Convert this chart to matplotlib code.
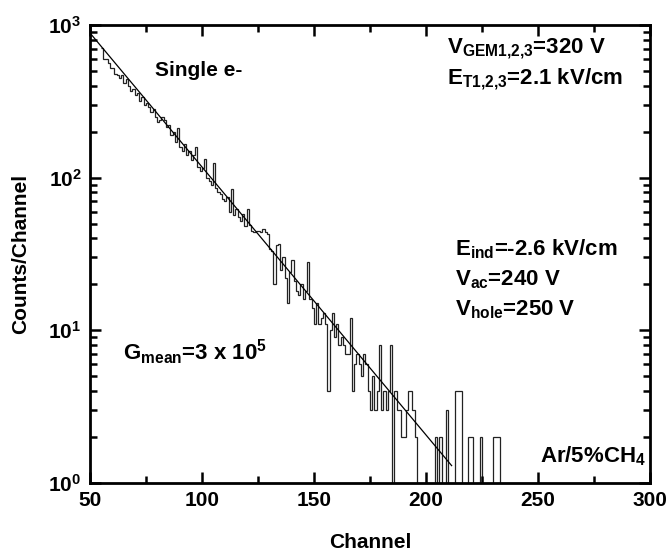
import numpy as np
import matplotlib
matplotlib.use("Agg")
import matplotlib.pyplot as plt
from matplotlib.ticker import FixedLocator, LogLocator, LogFormatterMathtext, NullFormatter

plt.rcParams['font.family'] = ['Liberation Sans', 'DejaVu Sans']
plt.rcParams['font.weight'] = 'bold'
plt.rcParams['mathtext.fontset'] = 'custom'
plt.rcParams['mathtext.rm'] = 'Liberation Sans:bold'
plt.rcParams['mathtext.it'] = 'Liberation Sans:bold'
plt.rcParams['mathtext.bf'] = 'Liberation Sans:bold'

# ---- data ----
first_channel = 55
counts = [
    710, 600, 600, 560, 520, 520, 480, 470, 450, 470,   # 55-64
    420, 440, 400, 370, 380, 350, 360, 320, 340, 300,   # 65-74
    310, 290, 270, 280, 250, 230, 240, 250, 240, 215,   # 75-84
    220, 190, 200, 170, 210, 160, 150, 165, 140, 150,   # 85-94
    130, 140, 158, 118, 110, 115, 132, 100, 95, 90,     # 95-104
    125, 85, 80, 78, 72, 70, 75, 60, 84, 57,            # 105-114
    62, 55, 52, 58, 48, 62, 49, 45, 44, 45,             # 115-124
    45, 44, 46, 44, 43, 34, 33, 20, 36, 37,             # 125-134
    25, 30, 22, 15, 24, 29, 21, 18, 17, 20,             # 135-144
    16, 18, 28, 16, 14, 11, 15, 11, 12, 13,             # 145-154
    11, 4, 10, 13, 9, 11, 8, 9, 8, 7,                   # 155-164
    7, 12, 4, 6, 7, 6, 5, 7, 6, 4,                      # 165-174
    3, 5, 3, 4, 8, 3, 4, 3, 4, 8,                       # 175-184
    0, 4, 3, 3, 2, 2, 3, 4, 4, 3,                       # 185-194
    2, 0, 0, 0, 0, 0, 0, 0, 0, 2,                       # 195-204
    0, 2, 0, 0, 3, 0, 0, 0, 4, 4,                       # 205-214
    4, 0, 0, 0, 2, 2, 0, 0, 0, 2,                       # 215-224
    0, 0, 0, 0, 0, 2, 2, 2, 0,                          # 225-233
]
fit_x = [50, 211.5]
fit_y = [890, 1.3]

x_ticks = [50, 100, 150, 200, 250, 300]

# ---- plot ----
fig = plt.figure(figsize=(6.70, 5.58), dpi=100)
ax = fig.add_axes([0.134, 0.1344, 0.836, 0.8208])

counts_arr = np.array(counts, dtype=float)
edges = np.arange(first_channel, first_channel + len(counts) + 1)
draw_vals = np.where(counts_arr > 0, counts_arr, 0.05)
ax.stairs(draw_vals, edges, baseline=None, color='#222222', linewidth=0.9)
ax.plot(fit_x, fit_y, color='black', linewidth=0.9)

ax.set_yscale('log')
ax.set_xlim(50, 300)
ax.set_ylim(1, 1000)

ax.xaxis.set_major_locator(FixedLocator(x_ticks))
ax.xaxis.set_minor_locator(FixedLocator([75, 125, 175, 225, 275]))
ax.yaxis.set_major_locator(LogLocator(base=10))
ax.yaxis.set_minor_locator(LogLocator(base=10, subs=np.arange(2, 10)))
ax.yaxis.set_major_formatter(LogFormatterMathtext())
ax.yaxis.set_minor_formatter(NullFormatter())

ax.tick_params(which='both', direction='in', top=True, right=True, width=1.8)
ax.tick_params(which='major', length=8, labelsize=15, pad=6)
ax.tick_params(which='minor', length=5)
for sp in ax.spines.values():
    sp.set_linewidth(2)

ax.set_xlabel('Channel', fontsize=15, fontweight='bold', labelpad=16)
ax.set_ylabel('Counts/Channel', fontsize=15, fontweight='bold', labelpad=13)

fs = 16
ax.text(79, 500, 'Single e-', fontsize=15, fontweight='bold', va='center')
ax.text(209.5, 700, r'V$_{\mathregular{GEM1{,}2{,}3}}$=320 V', fontsize=fs, fontweight='bold', va='center')
ax.text(209.5, 445, r'E$_{\mathregular{T1{,}2{,}3}}$=2.1 kV/cm', fontsize=fs, fontweight='bold', va='center')
ax.text(213, 34, r'E$_{\mathregular{ind}}$=-2.6 kV/cm', fontsize=fs, fontweight='bold', va='center')
ax.text(213, 21.5, r'V$_{\mathregular{ac}}$=240 V', fontsize=fs, fontweight='bold', va='center')
ax.text(213, 13.7, r'V$_{\mathregular{hole}}$=250 V', fontsize=fs, fontweight='bold', va='center')
ax.text(65, 7.2, r'G$_{\mathregular{mean}}$=3 x 10$^{\mathregular{5}}$', fontsize=fs, fontweight='bold', va='center')
ax.text(251, 1.5, r'Ar/5%CH$_{\mathregular{4}}$', fontsize=16, fontweight='bold', va='center')

fig.savefig('out.png', dpi=100)
